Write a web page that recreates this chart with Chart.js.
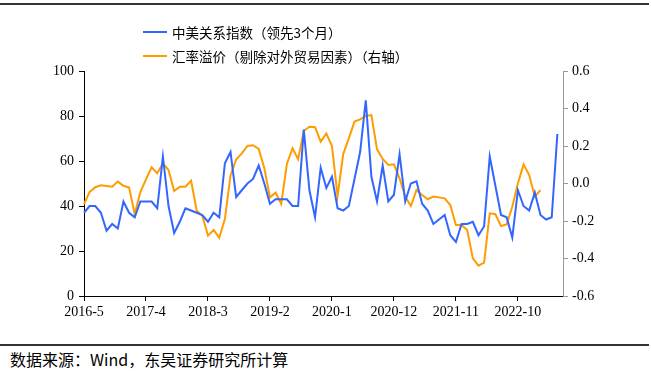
<!DOCTYPE html>
<html>
<head>
<meta charset="utf-8">
<script src="https://cdn.jsdelivr.net/npm/chart.js@4.4.1/dist/chart.umd.min.js"></script>
<style>
  html, body { margin:0; padding:0; background:#fff; }
  body { width:651px; height:371px; position:relative; overflow:hidden; }
  #topline { position:absolute; left:0; top:3px; width:649px; height:2px; background:#333; }
  #botline { position:absolute; left:0; top:344px; width:649px; height:2px; background:#333; }
  #wrap { position:absolute; left:0; top:0; width:651px; height:340px; }
  #legend { position:absolute; left:143px; top:20px; font-family:"Noto Sans CJK SC", sans-serif; font-size:13.5px; color:#000; line-height:24px; }
  .item { display:flex; align-items:center; height:24px; }
  .swatch { width:24px; height:2px; margin-right:5px; }
  #source { position:absolute; left:10px; top:347px; font-family:"Noto Sans CJK SC", "Liberation Serif", sans-serif; font-size:16px; color:#000; }
</style>
</head>
<body>
<div id="topline"></div>
<div id="wrap"><canvas id="c" width="651" height="340"></canvas></div>
<div id="legend">
  <div class="item"><div class="swatch" style="background:#3366ff"></div><span id="lg1"></span></div>
  <div class="item"><div class="swatch" style="background:#ff9c00"></div><span id="lg2"></span></div>
</div>
<div id="botline"></div>
<div id="source">数据来源：Wind，东吴证券研究所计算</div>
<script>
const seriesNames = ['中美关系指数（领先3个月）', '汇率溢价（剔除对外贸易因素）（右轴）'];

const months = [
 '2016-5','2016-6','2016-7','2016-8','2016-9','2016-10','2016-11','2016-12',
 '2017-1','2017-2','2017-3','2017-4','2017-5','2017-6','2017-7','2017-8','2017-9','2017-10','2017-11','2017-12',
 '2018-1','2018-2','2018-3','2018-4','2018-5','2018-6','2018-7','2018-8','2018-9','2018-10','2018-11','2018-12',
 '2019-1','2019-2','2019-3','2019-4','2019-5','2019-6','2019-7','2019-8','2019-9','2019-10','2019-11','2019-12',
 '2020-1','2020-2','2020-3','2020-4','2020-5','2020-6','2020-7','2020-8','2020-9','2020-10','2020-11','2020-12',
 '2021-1','2021-2','2021-3','2021-4','2021-5','2021-6','2021-7','2021-8','2021-9','2021-10','2021-11','2021-12',
 '2022-1','2022-2','2022-3','2022-4','2022-5','2022-6','2022-7','2022-8','2022-9','2022-10','2022-11','2022-12',
 '2023-1','2023-2','2023-3','2023-4','2023-5','2023-6'
];

const shownTicks = ['2016-5','2017-4','2018-3','2019-2','2020-1','2020-12','2021-11','2022-10'];

const relationIndex = [
 37, 40, 40, 37, 29, 32, 30, 42, 37, 35, 42, 42, 42, 39, 62, 40, 28, 33, 39, 38,
 37, 36, 33, 37, 35, 59, 64, 44, 47, 50, 52, 58, 50, 41, 43, 43, 43, 40, 40, 74,
 47, 35, 57, 48, 53, 39, 38, 40, 52, 64, 87, 53, 42, 58, 42, 45, 63, 42, 50, 51,
 41, 38, 32, 34, 36, 27, 24, 32, 32, 33, 27, 31, 62, 49, 36, 35, 26, 47, 40, 38,
 46, 36, 34, 35, 72
];

const fxPremium = [
 -0.11, -0.045, -0.02, -0.01, -0.013, -0.017, 0.01, -0.012, -0.022, -0.163,
 -0.046, 0.022, 0.086, 0.054, 0.108, 0.072, -0.04, -0.017, -0.017, 0.015,
 -0.145, -0.172, -0.278, -0.248, -0.289, -0.189, 0.043, 0.128, 0.161, 0.2,
 0.204, 0.184, 0.081, -0.074, -0.049, -0.109, 0.104, 0.188, 0.129, 0.28,
 0.303, 0.3, 0.223, 0.267, 0.2, -0.067, 0.157, 0.241, 0.33, 0.342,
 0.36, 0.365, 0.182, 0.131, 0.099, 0.102, 0.028, -0.07, -0.12, -0.035,
 -0.061, -0.084, -0.07, -0.074, -0.079, -0.115, -0.221, -0.221, -0.248, -0.399,
 -0.438, -0.422, -0.159, -0.164, -0.227, -0.218, -0.124, 0.001, 0.102, 0.045,
 -0.07, -0.035
];

document.getElementById('lg1').textContent = seriesNames[0];
document.getElementById('lg2').textContent = seriesNames[1];

const tickFont = { family: '"Liberation Serif", "Times New Roman", serif', size: 14 };

new Chart(document.getElementById('c'), {
  type: 'line',
  data: {
    labels: months,
    datasets: [
      { label: seriesNames[0], data: relationIndex, yAxisID: 'y', borderColor: '#3366ff', backgroundColor: '#3366ff',
        borderWidth: 2, pointRadius: 0, tension: 0, fill: false },
      { label: seriesNames[1], data: fxPremium, yAxisID: 'y1', borderColor: '#ff9c00', backgroundColor: '#ff9c00',
        borderWidth: 2, pointRadius: 0, tension: 0, fill: false }
    ]
  },
  options: {
    responsive: false,
    animation: false,
    devicePixelRatio: 1,
    layout: { padding: { top: 71, left: 0, right: 0, bottom: 0 } },
    plugins: { legend: { display: false }, tooltip: { enabled: false } },
    scales: {
      x: {
        type: 'category',
        offset: false,
        grid: { drawOnChartArea: false, drawTicks: true, tickLength: 5, color: '#000', lineWidth: 1 },
        border: { color: '#000', width: 1 },
        ticks: {
          autoSkip: false, maxRotation: 0, minRotation: 0, color: '#000', font: tickFont, padding: 3,
          callback: function(v, i) { const l = months[i]; return shownTicks.includes(l) ? l : null; }
        },
        afterFit: function(s) { s.height = 44; }
      },
      y: {
        position: 'left', min: 0, max: 100,
        grid: { drawOnChartArea: false, drawTicks: true, tickLength: 5, color: '#000' },
        border: { color: '#000', width: 1 },
        ticks: { stepSize: 20, color: '#000', font: tickFont, padding: 5 },
        afterFit: function(s) { s.width = 84; }
      },
      y1: {
        position: 'right', min: -0.6, max: 0.6,
        grid: { drawOnChartArea: false, drawTicks: true, tickLength: 5, color: '#999' },
        border: { color: '#999', width: 1 },
        ticks: { stepSize: 0.2, color: '#000', font: tickFont, padding: 4,
          callback: function(v) { return Math.abs(v) < 1e-9 ? '0.0' : (Math.round(v * 10) / 10).toFixed(1); } },
        afterFit: function(s) { s.width = 88; }
      }
    }
  }
});
</script>
</body>
</html>
